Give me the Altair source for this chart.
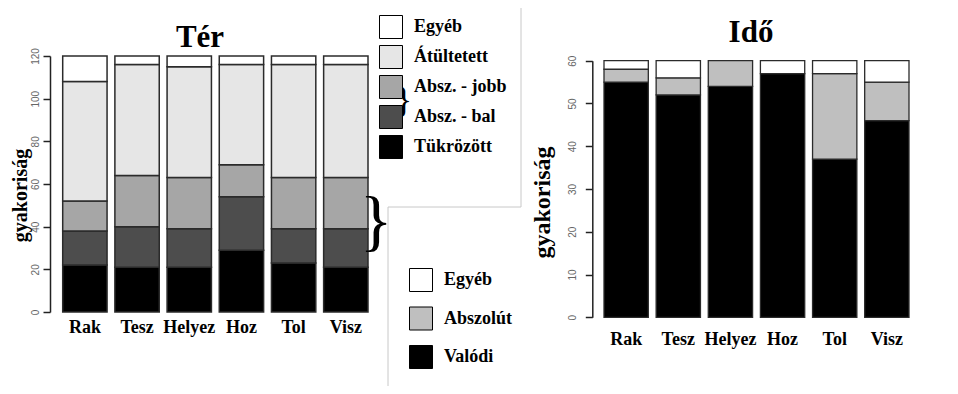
import altair as alt
import pandas as pd

SERIF = "Liberation Serif"
SANS = "Liberation Sans"

categories = ["Rak", "Tesz", "Helyez", "Hoz", "Tol", "Visz"]

# Tér panel (stack order bottom -> top)
ter_series = ["Tükrözött", "Absz. - bal", "Absz. - jobb", "Átültetett", "Egyéb"]
ter_tukrozott = [22, 21, 21, 29, 23, 21]
ter_abs_bal = [16, 19, 18, 25, 16, 18]
ter_abs_jobb = [14, 24, 24, 15, 24, 24]
ter_atultetett = [56, 52, 52, 47, 53, 53]
ter_egyeb = [12, 4, 5, 4, 4, 4]
ter_colors = ["#000000", "#4d4d4d", "#a6a6a6", "#e6e6e6", "#ffffff"]
ter_ticks = [0, 20, 40, 60, 80, 100, 120]

# Idő panel (stack order bottom -> top)
ido_series = ["Valódi", "Abszolút", "Egyéb"]
ido_valodi = [55, 52, 54, 57, 37, 46]
ido_abszolut = [3, 4, 6, 0, 20, 9]
ido_egyeb = [2, 4, 0, 3, 3, 5]
ido_colors = ["#000000", "#bfbfbf", "#ffffff"]
ido_ticks = [0, 10, 20, 30, 40, 50, 60]


def long_table(series_names, columns):
    rows = []
    for k, (name, vals) in enumerate(zip(series_names, columns)):
        for cat, v in zip(categories, vals):
            if v > 0:
                rows.append({"cat": cat, "series": name, "value": v, "idx": k})
    return pd.DataFrame(rows)


ter_df = long_table(ter_series, [ter_tukrozott, ter_abs_bal, ter_abs_jobb, ter_atultetett, ter_egyeb])
ido_df = long_table(ido_series, [ido_valodi, ido_abszolut, ido_egyeb])


def y_axis(offset, values, pad, title_x, title_y, title_size):
    return alt.Axis(
        orient="left", offset=offset, values=values, grid=False,
        domainColor="#222222", domainWidth=1.5, tickColor="#222222", tickWidth=1.5, tickSize=7,
        labelAngle=270, labelAlign="center", labelBaseline="alphabetic", labelPadding=pad,
        labelFont=SANS, labelFontSize=10, labelColor="#666666",
        title="gyakoriság", titleFont=SERIF, titleFontWeight="bold", titleFontSize=title_size,
        titleColor="black", titleAngle=270, titleAlign="center", titleBaseline="alphabetic",
        titleX=title_x, titleY=title_y,
    )


def x_axis(offset, pad):
    return alt.Axis(
        orient="bottom", offset=offset, domain=False, ticks=False, labelPadding=pad,
        labelAngle=0, labelFont=SERIF, labelFontWeight="bold", labelFontSize=18,
        labelColor="black", title=None,
    )


def legend(x, y, row_pad):
    return alt.Legend(
        orient="none", legendX=x, legendY=y, padding=0, title=None,
        symbolType="square", symbolSize=529, symbolStrokeColor="black", symbolStrokeWidth=1,
        symbolOpacity=1, labelFont=SERIF, labelFontWeight="bold", labelFontSize=18,
        labelColor="black", labelOffset=11, rowPadding=row_pad,
    )


left = alt.Chart(ter_df).mark_bar(stroke="#2b2b2b", strokeWidth=1.5).encode(
    x=alt.X("cat:N", sort=categories,
            scale=alt.Scale(domain=categories, range=[54.7, 360], paddingInner=0.15, paddingOuter=0),
            axis=x_axis(-74, 6)),
    y=alt.Y("value:Q", stack="zero",
            scale=alt.Scale(domain=[0, 120], range=[304, 48], nice=False),
            axis=y_axis(-42, ter_ticks, 5, -24, 187, 20)),
    fill=alt.Fill("series:N",
                  scale=alt.Scale(domain=ter_series[::-1], range=ter_colors[::-1]),
                  legend=legend(371, 7, 2)),
    order=alt.Order("idx:Q", sort="ascending"),
)

right = alt.Chart(ido_df).mark_bar(stroke="#2b2b2b", strokeWidth=1.3).encode(
    x=alt.X("cat:N", sort=categories,
            scale=alt.Scale(domain=categories, range=[596, 901], paddingInner=0.15, paddingOuter=0),
            axis=x_axis(-68.7, 13)),
    y=alt.Y("value:Q", stack="zero",
            scale=alt.Scale(domain=[0, 60], range=[309.3, 52.7], nice=False),
            axis=y_axis(-584.3, ido_ticks, 10, -43, 194, 24)),
    fill=alt.Fill("series:N",
                  scale=alt.Scale(domain=ido_series[::-1], range=ido_colors[::-1]),
                  legend=legend(401, 260, 10.5)),
    order=alt.Order("idx:Q", sort="ascending"),
)

one = pd.DataFrame({"a": [0]})

title_ter = alt.Chart(one).mark_text(
    text="Tér", font=SERIF, fontWeight="bold", fontSize=31, color="black",
    align="center", baseline="alphabetic").encode(x=alt.value(192), y=alt.value(39))
title_ido = alt.Chart(one).mark_text(
    text="Idő", font=SERIF, fontWeight="bold", fontSize=31, color="black",
    align="center", baseline="alphabetic").encode(x=alt.value(743), y=alt.value(34))

brace_big = alt.Chart(one).mark_text(
    text="}", font=SERIF, fontSize=68, color="black",
    align="center", baseline="middle").encode(x=alt.value(368), y=alt.value(214.5))
brace_small = alt.Chart(one).mark_text(
    text="}", font=SERIF, fontSize=35, color="black",
    align="right", baseline="middle").encode(x=alt.value(404), y=alt.value(92.5))

line_color = "#c8c8c8"
rule1 = alt.Chart(one).mark_rule(color=line_color, strokeWidth=1).encode(
    x=alt.value(513), y=alt.value(0), y2=alt.value(199))
rule2 = alt.Chart(one).mark_rule(color=line_color, strokeWidth=1).encode(
    x=alt.value(380), x2=alt.value(513), y=alt.value(199))
rule3 = alt.Chart(one).mark_rule(color=line_color, strokeWidth=1).encode(
    x=alt.value(380), y=alt.value(199), y2=alt.value(378))

chart = alt.layer(
    left, right, title_ter, title_ido, brace_big, brace_small, rule1, rule2, rule3
).resolve_scale(
    x="independent", y="independent", fill="independent"
).resolve_axis(
    x="independent", y="independent"
).resolve_legend(
    fill="independent"
).properties(
    width=942, height=378, padding=0,
    autosize=alt.AutoSizeParams(type="none"),
    background="white",
).configure_view(strokeWidth=0)

chart.save("out.html", embed_options={"renderer": "svg", "actions": False})
